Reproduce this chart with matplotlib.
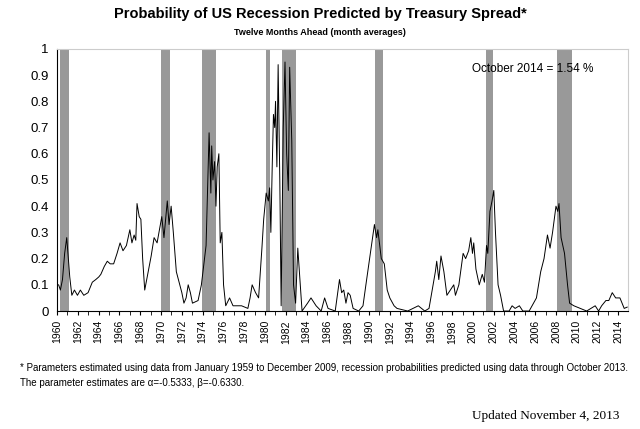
import matplotlib
matplotlib.use("Agg")
import matplotlib.pyplot as plt
import numpy as np
plt.rcParams['font.family'] = ['Liberation Sans', 'DejaVu Sans']

years = [0.0,0.16,0.33,0.53,0.74,0.94,1.23,1.43,1.68,1.97,2.25,2.58,2.99,3.40,3.73,4.02,4.22,4.55,4.84,5.12,5.45,5.78,6.07,6.35,6.68,7.01,7.21,7.42,7.58,7.70,7.91,8.07,8.24,
 8.44,8.73,9.06,9.34,9.63,10.08,10.29,10.61,10.78,10.98,11.19,11.48,11.68,12.01,12.21,12.42,12.62,12.83,13.03,13.57,13.89,14.34,14.47,14.63,14.80,14.88,15.0,15.16,15.29,15.41,15.57,15.70,15.86,16.02,16.23,16.60,16.93,17.75,18.36,18.57,18.77,19.10,19.39,19.71,19.88,20.12,20.33,20.45,20.57,20.70,20.82,20.94,21.02,21.15,21.27,21.43,21.56,21.76,21.93,22.09,22.25,22.38,22.58,22.75,22.95,23.16,23.40,23.57,24.10,24.43,24.92,25.41,25.74,26.07,26.76,27.17,27.38,27.58,27.79,27.99,28.20,28.48,29.02,29.43,29.71,30.25,30.53,30.74,30.86,31.19,31.48,31.76,32.01,32.42,32.70,33.73,34.75,35.37,35.78,36.39,36.52,36.72,36.93,37.21,37.50,37.83,38.16,38.32,38.65,39.06,39.30,39.59,39.80,39.96,40.08,40.29,40.61,40.90,41.11,41.31,41.43,41.64,41.84,42.01,42.17,42.42,42.66,42.95,43.48,43.77,44.06,44.47,44.80,45.41,46.11,46.52,46.84,47.17,47.42,47.66,47.99,48.16,48.28,48.48,48.81,49.10,49.30,49.71,50.33,50.94,51.76,52.09,52.38,52.79,53.07,53.40,53.73,54.14,54.55,54.84]
prob = [0.10,0.10,0.08,0.12,0.22,0.28,0.13,0.06,0.08,0.06,0.08,0.06,0.07,0.11,0.12,0.13,0.14,0.17,0.19,0.18,0.18,0.22,0.26,0.23,0.25,0.31,0.26,0.29,0.27,0.41,0.36,0.35,0.20,
 0.08,0.14,0.21,0.28,0.26,0.36,0.28,0.42,0.33,0.40,0.30,0.15,0.12,0.07,0.03,0.05,0.10,0.07,0.03,0.04,0.10,0.25,0.45,0.68,0.45,0.63,0.50,0.57,0.40,0.55,0.60,0.26,0.30,0.10,0.02,0.05,0.02,0.02,0.01,0.05,0.10,0.07,0.05,0.24,0.35,0.45,0.42,0.47,0.30,0.55,0.75,0.70,0.80,0.55,0.94,0.50,0.02,0.70,0.95,0.60,0.46,0.93,0.65,0.10,0.03,0.24,0.10,0.00,0.03,0.05,0.02,0.00,0.05,0.01,0.00,0.12,0.07,0.08,0.03,0.07,0.06,0.01,0.00,0.02,0.10,0.25,0.33,0.28,0.31,0.20,0.18,0.08,0.05,0.02,0.01,0.00,0.02,0.00,0.01,0.15,0.19,0.12,0.21,0.15,0.06,0.08,0.10,0.06,0.10,0.22,0.20,0.23,0.28,0.22,0.26,0.16,0.10,0.14,0.11,0.25,0.22,0.38,0.42,0.46,0.30,0.10,0.06,0.00,0.00,0.02,0.01,0.02,0.00,0.00,0.05,0.15,0.20,0.29,0.24,0.30,0.40,0.38,0.41,0.28,0.22,0.10,0.03,0.02,0.01,0.00,0.02,0.00,0.02,0.04,0.04,0.07,0.05,0.05,0.01,0.015]
rec_start = [0.33,9.96,13.93,20.08,21.6,30.57,41.27,48.07]
rec_end = [1.19,10.9,15.25,20.53,22.95,31.31,41.93,49.5]

fig = plt.figure(figsize=(6.4,4.29), dpi=100)
ax = fig.add_axes([0.089,0.275,0.892,0.611])
x = 1960+np.array(years)
for s,e in zip(rec_start,rec_end):
    ax.axvspan(1960+s,1960+e,color='#999999',lw=0)
ax.plot(x,prob,color='black',lw=0.7)
ax.set_xlim(1960,2014.9)
ax.set_ylim(0,1)
ax.set_yticks(np.arange(0,1.01,0.1))
ax.set_yticklabels(['0','0.1','0.2','0.3','0.4','0.5','0.6','0.7','0.8','0.9','1'],fontsize=9.5)
ax.set_xticks(range(1960,2015,2))
ax.set_xticks(range(1960,2015,1),minor=True)
ax.set_xticklabels([str(y) for y in range(1960,2015,2)],rotation=90,fontsize=7.5)
ax.tick_params(axis='y',length=0,pad=6)
ax.tick_params(axis='x',which='both',length=3,direction='out')
for s in ['top','right']:
    ax.spines[s].set_color('#cccccc')
ax.text(0.94,0.925,'October 2014 = 1.54 %',transform=ax.transAxes,ha='right',va='center',fontsize=8.5)
fig.text(0.5,0.967,'Probability of US Recession Predicted by Treasury Spread*',ha='center',va='center',fontsize=10.5,fontweight='bold')
fig.text(0.5,0.925,'Twelve Months Ahead (month averages)',ha='center',va='center',fontsize=6.5,fontweight='bold')
fig.text(0.031,0.142,'* Parameters estimated using data from January 1959 to December 2009, recession probabilities predicted using data through October 2013.',fontsize=7,va='center')
fig.text(0.031,0.107,'The parameter estimates are \u03b1=-0.5333, \u03b2=-0.6330.',fontsize=7,va='center')
fig.text(0.852,0.03,'Updated November 4, 2013',ha='center',va='center',fontsize=9.5,family='Liberation Serif')
fig.savefig('out.png',dpi=100)
